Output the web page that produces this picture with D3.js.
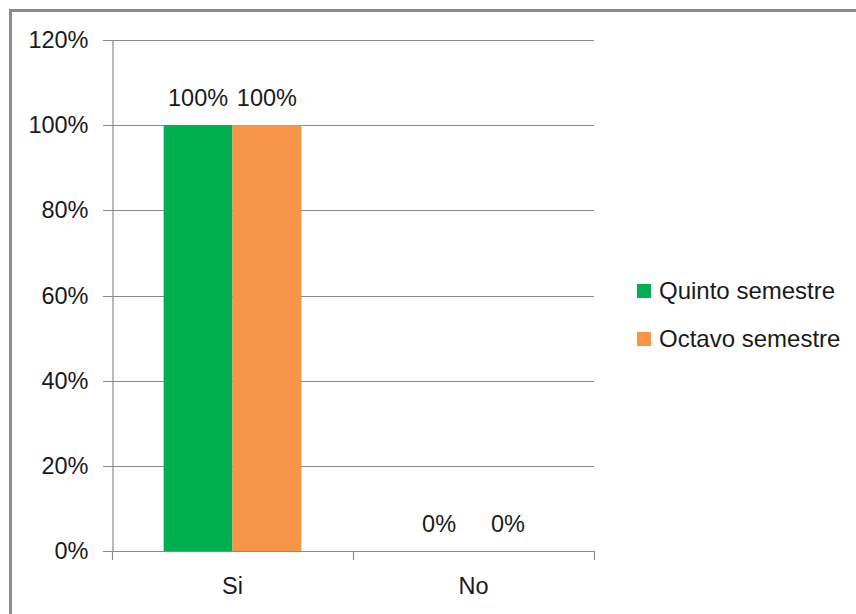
<!DOCTYPE html>
<html>
<head>
<meta charset="utf-8">
<script src="https://cdn.jsdelivr.net/npm/d3@7"></script>
<style>
  html, body { margin: 0; padding: 0; background: #fff; }
  svg { display: block; }
  text { font-family: "Liberation Sans", Arial, sans-serif; fill: #1a1a1a; }
</style>
</head>
<body>
<div id="chart"></div>
<script>
// Survey answers by semester
const categories = ["Si", "No"];
const seriesNames = ["Quinto semestre", "Octavo semestre"];
const quinto = [1.0, 0.0];
const octavo = [1.0, 0.0];
const yTicks = [0, 0.2, 0.4, 0.6, 0.8, 1.0, 1.2];
const colors = ["#00B050", "#F79646"];

const W = 856, H = 614;
const plot = { left: 112, right: 594, top: 40, bottom: 551 };

const svg = d3.select("#chart").append("svg")
  .attr("width", W).attr("height", H);

// chart frame (only top and left edges fall inside the view)
svg.append("path")
  .attr("d", `M10.5,${H + 5} V10.5 H${W + 5}`)
  .attr("fill", "none").attr("stroke", "#8c8c8c").attr("stroke-width", 3);

const x0 = d3.scaleBand().domain(categories)
  .range([plot.left, plot.right]).paddingInner(0).paddingOuter(0);
const groupPad = x0.bandwidth() * 1.5 / 3.5 / 2;
const x1 = d3.scaleBand().domain(seriesNames)
  .range([groupPad, x0.bandwidth() - groupPad]).padding(0);
const y = d3.scaleLinear().domain([0, 1.2]).range([plot.bottom, plot.top]);

// gridlines
svg.append("g").selectAll("line").data(yTicks).join("line")
  .attr("x1", plot.left - 9).attr("x2", plot.right)
  .attr("y1", d => Math.round(y(d)) + 0.5).attr("y2", d => Math.round(y(d)) + 0.5)
  .attr("stroke", "#8a8a8a").attr("stroke-width", 1.2);

// y axis
const yAxis = svg.append("g").attr("transform", `translate(${plot.left + 0.5},0)`)
  .call(d3.axisLeft(y).tickValues(yTicks).tickFormat(d3.format(".0%")).tickSize(0).tickPadding(24));
yAxis.select(".domain").attr("stroke", "#8a8a8a").attr("stroke-width", 1.2);
yAxis.selectAll("text").style("font-size", "23.5px").attr("fill", "#1a1a1a")
  .attr("font-family", "Liberation Sans, Arial, sans-serif");

// bars
const series = [quinto, octavo];
const groups = svg.append("g").selectAll("g").data(categories).join("g")
  .attr("transform", c => `translate(${x0(c)},0)`);
groups.selectAll("rect")
  .data((c, i) => seriesNames.map((s, k) => ({ s, v: series[k][i], k })))
  .join("rect")
  .attr("x", d => x1(d.s)).attr("width", x1.bandwidth())
  .attr("y", d => y(d.v)).attr("height", d => y(0) - y(d.v))
  .attr("fill", d => colors[d.k]);

// value labels
groups.selectAll("text.val")
  .data((c, i) => seriesNames.map((s, k) => ({ s, v: series[k][i], k })))
  .join("text").attr("class", "val")
  .attr("x", d => x1(d.s) + x1.bandwidth() / 2)
  .attr("y", d => y(d.v) - 19)
  .attr("text-anchor", "middle")
  .style("font-size", "23.5px")
  .text(d => d3.format(".0%")(d.v));

// x axis
const xAxis = svg.append("g").attr("transform", `translate(0,${Math.round(y(0)) + 0.5})`)
  .call(d3.axisBottom(x0).tickSize(0).tickPadding(26));
xAxis.select(".domain").remove();
xAxis.selectAll("text").style("font-size", "23.5px").attr("fill", "#1a1a1a")
  .attr("font-family", "Liberation Sans, Arial, sans-serif");
svg.append("g").selectAll("line")
  .data([plot.left, ...categories.map(c => x0(c) + x0.bandwidth())])
  .join("line")
  .attr("x1", d => Math.round(d) + 0.5).attr("x2", d => Math.round(d) + 0.5)
  .attr("y1", y(0)).attr("y2", y(0) + 9)
  .attr("stroke", "#8a8a8a").attr("stroke-width", 1.2);

// legend
const legend = svg.append("g").attr("transform", "translate(637,284)");
const items = legend.selectAll("g").data(seriesNames).join("g")
  .attr("transform", (d, i) => `translate(0,${i * 48})`);
items.append("rect").attr("width", 14).attr("height", 14)
  .attr("fill", (d, i) => colors[i]);
items.append("text").attr("x", 22).attr("y", 7).attr("dy", "0.35em")
  .style("font-size", "24px").text(d => d);
</script>
</body>
</html>
